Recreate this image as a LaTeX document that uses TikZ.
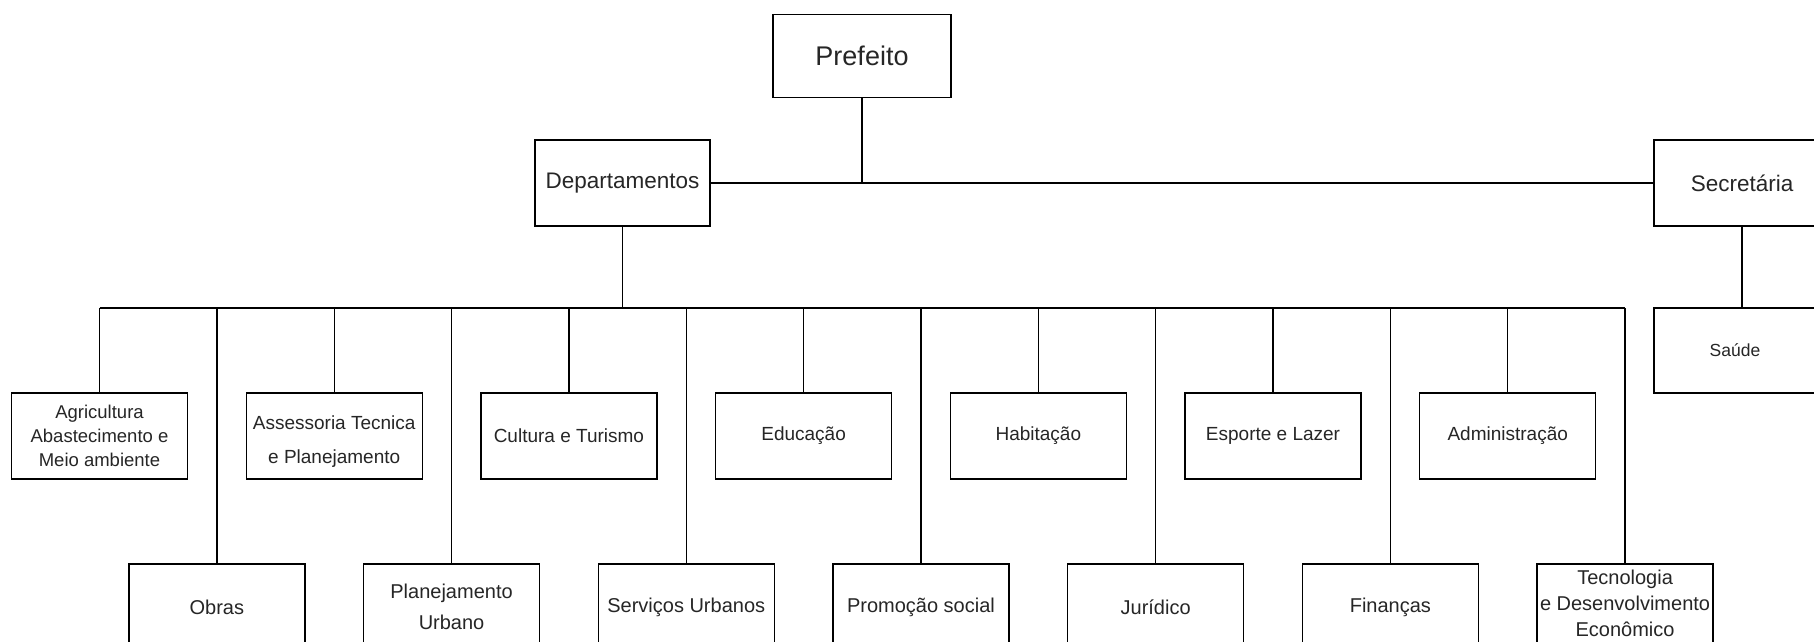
\documentclass[tikz,border=0pt]{standalone}
\usepackage{fontspec}
\setmainfont{Liberation Sans}
\begin{document}
\begin{tikzpicture}[x=1pt,y=-1pt,
  box/.style={draw=black,line width=1.4pt,minimum width=176pt,minimum height=86pt,inner sep=0pt,align=center,text=black!85},
  link/.style={draw=black,line width=1.4pt},
  inlabel/.style={align=center,text=black!85,inner sep=0pt},
  toprow/.style={box,font=\fontsize{19}{24}\selectfont},
  botrow/.style={box,font=\fontsize{20}{31}\selectfont}]
\clip (0,0) rectangle (1814,642);
\fill[white] (0,0) rectangle (1814,642);
% upper levels
\node[box,minimum width=178pt,minimum height=83pt,font=\fontsize{27}{32}\selectfont] (pref) at (862,56) {Prefeito};
\node[box,minimum width=175pt,font=\fontsize{22.5}{26}\selectfont] (dep) at (622.5,183) {Departamentos};
\node[box,font=\fontsize{22.5}{26}\selectfont] (sec) at (1742,183) {Secretária};
\node[box,minimum height=85pt,font=\fontsize{17.5}{21}\selectfont] (sau) at (1742,350.5) {\hspace*{-14pt}Saúde};
% top row (drop x = 99.5 + 117.35 i)
\node[toprow,font=\fontsize{18.5}{24}\selectfont] (a0) at (99.5,436) {Agricultura\\Abastecimento e\\Meio ambiente};
\node[toprow,label={[inlabel,yshift=-6pt,font=\fontsize{19}{34}\selectfont]center:Assessoria Tecnica\\e Planejamento}] (a2) at (334.2,436) {};
\node[toprow] (a4) at (568.9,436) {Cultura e Turismo};
\node[toprow] (a6) at (803.6,436) {Educação};
\node[toprow] (a8) at (1038.3,436) {Habitação};
\node[toprow] (a10) at (1273,436) {Esporte e Lazer};
\node[toprow] (a12) at (1507.7,436) {Administração};
% bottom row
\node[botrow] (a1) at (216.85,607) {Obras};
\node[botrow] (a3) at (451.55,607) {Planejamento\\Urbano};
\node[botrow] (a5) at (686.25,607) {Serviços Urbanos};
\node[botrow] (a7) at (920.95,607) {Promoção social};
\node[botrow] (a9) at (1155.65,607) {Jurídico};
\node[botrow] (a11) at (1390.35,607) {Finanças};
\node[botrow,label={[inlabel,yshift=4pt,font=\fontsize{20}{26}\selectfont]center:Tecnologia\\e Desenvolvimento\\Econômico}] (a13) at (1625.05,607) {};
% connectors
\coordinate (bus) at (622.5,308);
\draw[link] (pref.south) -- (pref.south |- dep.east);
\draw[link] (dep.east) -- (sec.west);
\draw[link] (sec.south) -- (sau.north);
\draw[link] (dep.south) -- (bus);
\draw[link] (a0.north |- bus) -- (a13.north |- bus);
\foreach \n in {a0,a1,a2,a3,a4,a5,a6,a7,a8,a9,a10,a11,a12,a13}
  \draw[link] (\n.north) -- (\n.north |- bus);
\end{tikzpicture}
\end{document}
